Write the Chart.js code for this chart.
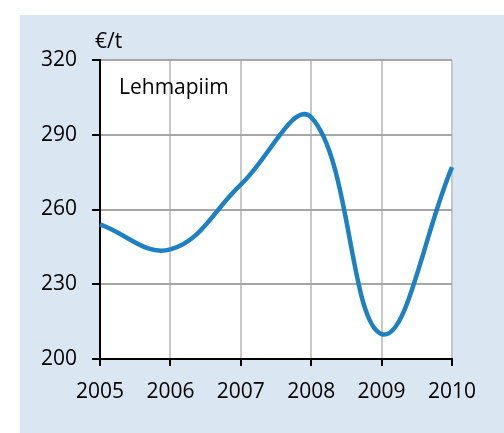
<!DOCTYPE html>
<html>
<head>
<meta charset="utf-8">
<script src="https://cdn.jsdelivr.net/npm/chart.js@4"></script>
<style>
  html, body { margin: 0; padding: 0; background: #ffffff; }
  #wrap { position: relative; width: 504px; height: 433px; }
</style>
</head>
<body>
<div id="wrap"><canvas id="c" width="504" height="433"></canvas></div>
<script>
const years = ['2005', '2006', '2007', '2008', '2009', '2010'];
const prices = [254, 244, 270, 297, 210, 277];
const yTicks = [200, 230, 260, 290, 320];
const unitLabel = '€/t';
const seriesLabel = 'Lehmapiim';

const FONT = '"Open Sans", "Liberation Sans", sans-serif';

const panelPlugin = {
  id: 'panel',
  beforeDraw(chart) {
    const ctx = chart.ctx;
    ctx.save();
    ctx.fillStyle = '#ffffff';
    ctx.fillRect(0, 0, chart.width, chart.height);
    ctx.fillStyle = '#dae6f1';
    ctx.fillRect(20, 15, chart.width - 20, chart.height - 15);
    const a = chart.chartArea;
    ctx.fillStyle = '#ffffff';
    ctx.fillRect(a.left, a.top, a.right - a.left, a.bottom - a.top);
    ctx.restore();
  },
  afterDraw(chart) {
    const ctx = chart.ctx;
    const a = chart.chartArea;
    ctx.save();
    ctx.fillStyle = '#000000';
    ctx.font = '21px ' + FONT;
    ctx.textBaseline = 'alphabetic';
    ctx.textAlign = 'left';
    ctx.fillText(unitLabel, a.left - 5, a.top - 12);
    ctx.fillText(seriesLabel, a.left + 19, a.top + 34);
    ctx.restore();
  }
};

new Chart(document.getElementById('c'), {
  type: 'line',
  data: {
    labels: years,
    datasets: [{
      label: seriesLabel,
      data: prices,
      borderColor: '#1c80c2',
      borderWidth: 4.5,
      pointRadius: 0,
      tension: 0.4,
      fill: false
    }]
  },
  options: {
    responsive: false,
    animation: false,
    layout: { padding: { left: 20, top: 60, right: 52, bottom: 0 } },
    plugins: { legend: { display: false }, tooltip: { enabled: false } },
    scales: {
      x: {
        offset: false,
        grid: { color: '#c8c8c8', lineWidth: 2, tickColor: '#000000', tickLength: 7, drawTicks: true },
        border: { color: '#000000', width: 2 },
        ticks: { color: '#000000', font: { size: 21, family: FONT }, padding: 13, maxRotation: 0 },
        afterFit(scale) { scale.height = 74; }
      },
      y: {
        min: 200, max: 320,
        afterBuildTicks(scale) { scale.ticks = yTicks.map(v => ({ value: v })); },
        grid: { color: '#a6a6a6', lineWidth: 2, tickColor: '#000000', tickLength: 8, drawTicks: true },
        border: { color: '#000000', width: 2 },
        ticks: { color: '#000000', font: { size: 21, family: FONT }, padding: 15 },
        afterFit(scale) { scale.width = 80; }
      }
    }
  },
  plugins: [panelPlugin]
});
</script>
</body>
</html>
